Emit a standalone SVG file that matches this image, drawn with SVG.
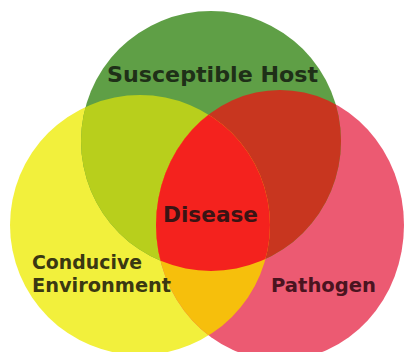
<svg xmlns="http://www.w3.org/2000/svg" width="405" height="352" viewBox="0 0 405 352">
<style>
.lbl{font-family:"DejaVu Sans","Liberation Sans",sans-serif;font-weight:bold;}
</style>
<defs>
<clipPath id="cY"><circle cx="140" cy="225" r="130"/></clipPath>
<clipPath id="cP"><ellipse cx="280" cy="225" rx="124" ry="135"/></clipPath>
<clipPath id="cG"><circle cx="211" cy="141" r="130"/></clipPath>
</defs>
<rect width="405" height="352" fill="#ffffff"/>
<g id="environment">
<circle cx="140" cy="225" r="130" fill="#f2f03c"/>
</g>
<g id="pathogen">
<ellipse cx="280" cy="225" rx="124" ry="135" fill="#ec5a72"/>
</g>
<g id="host">
<circle cx="211" cy="141" r="130" fill="#5f9f46"/>
</g>
<g id="overlaps">
<circle cx="211" cy="141" r="130" fill="#b8cf1c" clip-path="url(#cY)"/>
<circle cx="211" cy="141" r="130" fill="#c8361f" clip-path="url(#cP)"/>
<circle cx="140" cy="225" r="130" fill="#f6bf0c" clip-path="url(#cP)"/>
<g clip-path="url(#cP)"><circle cx="211" cy="141" r="130" fill="#f4221e" clip-path="url(#cY)"/></g>
</g>
<g id="labels">
<text class="lbl" x="107" y="82" font-size="21" textLength="211" lengthAdjust="spacingAndGlyphs" fill="#1f3018">Susceptible Host</text>
<text class="lbl" x="163" y="222" font-size="21" textLength="95" lengthAdjust="spacingAndGlyphs" fill="#3a1414">Disease</text>
<text class="lbl" x="32" y="269" font-size="19" textLength="110" lengthAdjust="spacingAndGlyphs" fill="#3a3812">Conducive</text>
<text class="lbl" x="32" y="292" font-size="19" textLength="139" lengthAdjust="spacingAndGlyphs" fill="#3a3812">Environment</text>
<text class="lbl" x="271" y="292" font-size="19" textLength="105" lengthAdjust="spacingAndGlyphs" fill="#4a1420">Pathogen</text>
</g>
</svg>
